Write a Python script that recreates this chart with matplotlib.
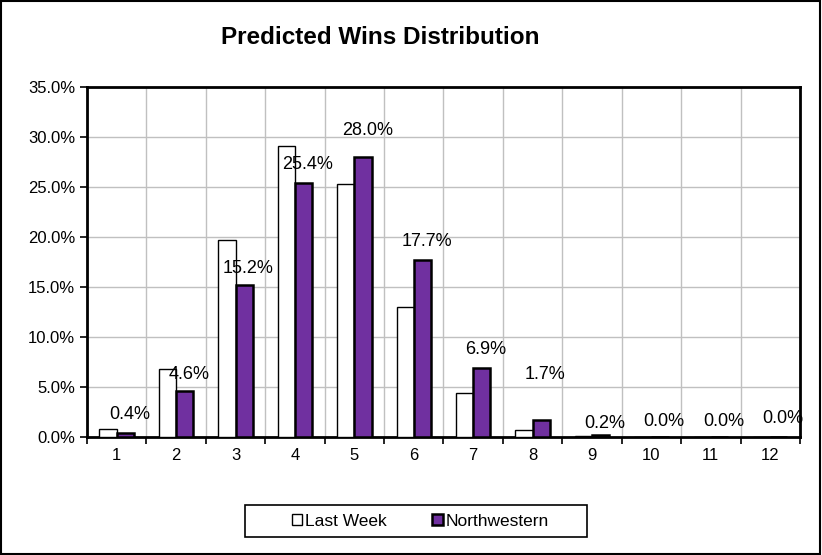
import matplotlib.pyplot as plt
import numpy as np
from matplotlib.patches import Rectangle
from matplotlib.ticker import FuncFormatter

plt.rcParams["font.family"] = ["Liberation Sans", "DejaVu Sans"]

wins = [1, 2, 3, 4, 5, 6, 7, 8, 9, 10, 11, 12]
last_week = [0.8, 6.8, 19.7, 29.1, 25.3, 13.0, 4.4, 0.7, 0.1, 0.05, 0.0, 0.0]
northwestern = [0.4, 4.6, 15.2, 25.4, 28.0, 17.7, 6.9, 1.7, 0.2, 0.05, 0.0, 0.0]
label_text = ["0.4%", "4.6%", "15.2%", "25.4%", "28.0%", "17.7%", "6.9%", "1.7%", "0.2%", "0.0%", "0.0%", "0.0%"]
label_offset = [7, 6, 6, 7, 13, 7, 7, 27, 2, 5, 5, 7]

purple = "#7030A0"
width = 0.29

fig = plt.figure(figsize=(8.22, 5.55), dpi=100)
fig.patches.append(Rectangle((0.001, 0.001), 0.997, 0.997, transform=fig.transFigure,
                             fill=False, edgecolor="black", linewidth=1.5))
# legend box
fig.patches.append(Rectangle((245 / 822, 1 - 537 / 555), 342 / 822, 32 / 555, transform=fig.transFigure,
                             fill=False, edgecolor="black", linewidth=1.2))
ax = fig.add_axes([0.1058, 0.2126, 0.8674, 0.6306])

x = np.arange(len(wins))
ax.bar(x - width / 2, last_week, width, color="white", edgecolor="black", linewidth=1.0,
       label="Last Week", zorder=3)
ax.bar(x + width / 2, northwestern, width, color=purple, edgecolor="black", linewidth=1.8,
       label="Northwestern", zorder=3)

for xi, val, txt, off in zip(x, northwestern, label_text, label_offset):
    ax.annotate(txt, (xi + width / 2, val), xytext=(3, off), textcoords="offset points",
                ha="center", va="bottom", fontsize=13, zorder=4)

ax.set_xlim(-0.5, len(wins) - 0.5)
ax.set_ylim(0, 35)
ax.set_yticks(np.arange(0, 36, 5))
ax.yaxis.set_major_formatter(FuncFormatter(lambda v, p: f"{v:.1f}%"))
ax.set_xticks(x)
ax.set_xticklabels([str(w) for w in wins])
ax.set_xticks(np.arange(-0.5, len(wins), 1), minor=True)
ax.tick_params(axis="x", which="major", length=0, pad=8, labelsize=12)
ax.tick_params(axis="x", which="minor", length=5, width=1.2, direction="out")
ax.tick_params(axis="y", length=5, width=1.2, direction="out", labelsize=12)

ax.grid(axis="y", which="major", color="#c0c0c0", linewidth=1, zorder=0)
ax.grid(axis="x", which="minor", color="#c0c0c0", linewidth=1, zorder=0)
for s in ax.spines.values():
    s.set_linewidth(2)
    s.set_color("black")

fig.text(0.462, 0.933, "Predicted Wins Distribution", ha="center", va="center",
         fontsize=17.5, fontweight="bold")

leg = ax.legend(loc="center", bbox_to_anchor=(0.511, 0.0605), bbox_transform=fig.transFigure,
                ncol=2, frameon=False, fontsize=12.5,
                handlelength=0.6, handleheight=0.6, handletextpad=0.15, columnspacing=2.65,
                borderpad=0.4)

fig.savefig("out.png", dpi=100)
